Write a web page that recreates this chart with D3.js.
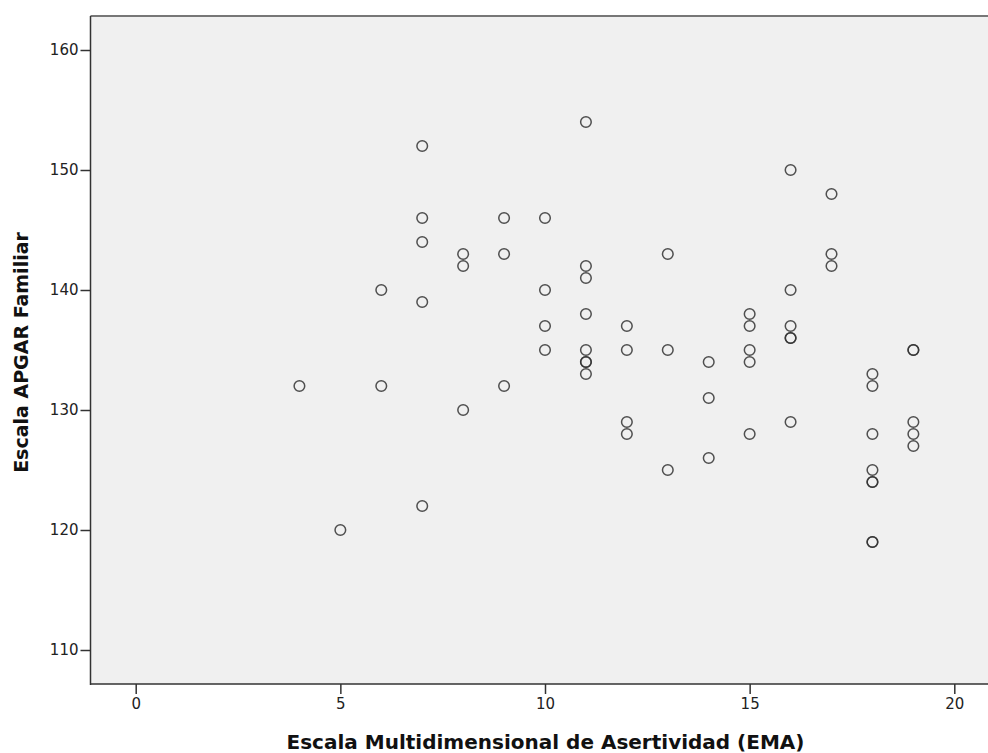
<!DOCTYPE html>
<html><head><meta charset="utf-8">
<script src="https://cdn.jsdelivr.net/npm/d3@7"></script>
<style>
html,body{margin:0;padding:0;background:#fff;}
text{font-family:"DejaVu Sans",Verdana,sans-serif;}
</style></head>
<body><svg id="c" width="988" height="753"></svg>
<script>
// Data: EMA (x) vs APGAR Familiar (y); duplicates listed twice
const emaValues = [4,5,6,6,7,7,7,7,7,8,8,8,9,9,9,10,10,10,10,
  11,11,11,11,11,11,11,11,12,12,12,12,13,13,13,14,14,14,
  15,15,15,15,15,16,16,16,16,16,16,17,17,17,
  18,18,18,18,18,18,18,18,19,19,19,19,19];
const apgarValues = [132,120,140,132,152,146,144,139,122,143,142,130,146,143,132,146,140,137,135,
  154,142,141,138,135,134,134,133,137,135,129,128,143,135,125,134,131,126,
  138,137,135,134,128,150,140,137,136,136,129,148,143,142,
  133,132,128,125,124,124,119,119,135,135,129,128,127];
const xTicks = [0,5,10,15,20];
const yTicks = [110,120,130,140,150,160];
const xTitle = "Escala Multidimensional de Asertividad (EMA)";
const yTitle = "Escala APGAR Familiar";

const svg = d3.select("#c");
const L = 90.5, T = 16, R = 992, B = 684;
const x = d3.scaleLinear().domain([0,20]).range([135.7,954.3]);
const y = d3.scaleLinear().domain([110,160]).range([650,50]);

svg.append("rect").attr("x",L).attr("y",T).attr("width",R-L).attr("height",B-T).attr("fill","#f0f0f0");
svg.append("line").attr("x1",L).attr("x2",R).attr("y1",T).attr("y2",T).attr("stroke","#777").attr("stroke-width",2);

const xAxis = svg.append("g").attr("transform",`translate(0,${B})`)
  .call(d3.axisBottom(x).tickValues(xTicks).tickSize(10).tickPadding(4).tickSizeOuter(0));
const yAxis = svg.append("g").attr("transform",`translate(${L},0)`)
  .call(d3.axisLeft(y).tickValues(yTicks).tickSize(10).tickPadding(2).tickSizeOuter(0));
[xAxis,yAxis].forEach(a=>{
  a.select(".domain").remove();
  a.selectAll(".tick line").attr("stroke","#333").attr("stroke-width",1.5);
  a.selectAll(".tick text").attr("font-size",15).attr("fill","#222").attr("font-family","DejaVu Sans, Verdana, sans-serif");
});
svg.append("line").attr("x1",L).attr("x2",L).attr("y1",T).attr("y2",B+1).attr("stroke","#333").attr("stroke-width",1.5);
svg.append("line").attr("x1",L).attr("x2",R).attr("y1",B).attr("y2",B).attr("stroke","#333").attr("stroke-width",1.5);

svg.append("g").selectAll("circle").data(emaValues.map((v,i)=>[v,apgarValues[i]])).join("circle")
  .attr("cx",d=>x(d[0])).attr("cy",d=>y(d[1])).attr("r",5.3)
  .attr("fill","none").attr("stroke","#333").attr("stroke-width",1.5).attr("stroke-opacity",0.85);

svg.append("text").attr("x",545.5).attr("y",749).attr("text-anchor","middle")
  .attr("font-size",20).attr("font-weight","bold").attr("fill","#111").text(xTitle);
svg.append("text").attr("transform",`translate(28,352.5) rotate(-90)`).attr("text-anchor","middle")
  .attr("font-size",19).attr("font-weight","bold").attr("fill","#111").text(yTitle);
</script></body></html>
